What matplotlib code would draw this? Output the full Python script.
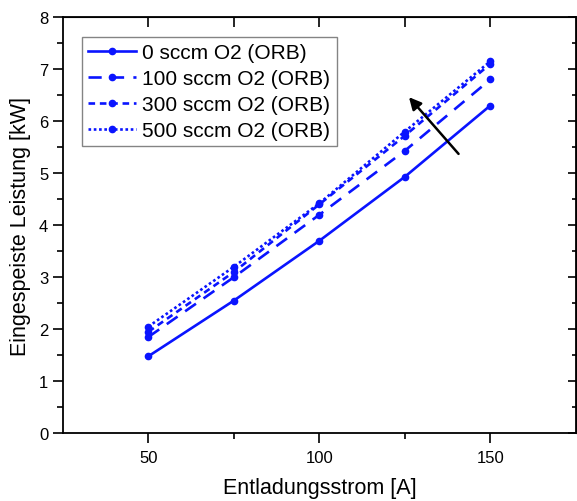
import matplotlib
matplotlib.use("Agg")
import matplotlib.pyplot as plt

plt.rcParams['font.family'] = ['Liberation Sans', 'DejaVu Sans']

# Entladungsstrom [A]
current = [50, 75, 100, 125, 150]

# Eingespeiste Leistung [kW] per O2 flow
p_0sccm   = [1.48, 2.55, 3.70, 4.93, 6.30]
p_100sccm = [1.85, 3.00, 4.20, 5.43, 6.80]
p_300sccm = [1.95, 3.10, 4.40, 5.72, 7.10]
p_500sccm = [2.05, 3.20, 4.42, 5.80, 7.15]

labels = ['0 sccm O2 (ORB)', '100 sccm O2 (ORB)', '300 sccm O2 (ORB)', '500 sccm O2 (ORB)']
series = [p_0sccm, p_100sccm, p_300sccm, p_500sccm]
dashes = ['-', (0, (5, 3.5)), (0, (2.5, 1.8)), (0, (1, 1))]

blue = '#0a14ff'

fig = plt.figure(figsize=(5.77, 5.02), dpi=100)
ax = fig.add_axes([0.109, 0.135, 0.889, 0.829])

for y, lab, ls in zip(series, labels, dashes):
    ax.plot(current, y, color=blue, linestyle=ls, linewidth=1.9,
            marker='o', markersize=4.5, label=lab)

# arrow: increasing O2 flow
ax.annotate('', xy=(126.2, 6.46), xytext=(140.7, 5.37),
            arrowprops=dict(arrowstyle='-|>', color='black', lw=1.8,
                            mutation_scale=18, shrinkA=0, shrinkB=0))

ax.set_xlim(25, 175)
ax.set_ylim(0, 8)
ax.set_xticks([50, 100, 150])
ax.set_xticks([75, 125], minor=True)
ax.set_yticks(range(0, 9))
ax.set_yticks([i + 0.5 for i in range(8)], minor=True)

ax.tick_params(axis='both', which='both', direction='out', labelsize=12,
               top=False, right=False, width=1.2)
ax.tick_params(which='major', length=7)
ax.tick_params(which='minor', length=4)
ax.tick_params(axis='x', pad=5)

# mirror ticks on top/right pointing inward
top = ax.secondary_xaxis('top')
top.set_xticks([50, 100, 150])
top.set_xticks([75, 125], minor=True)
top.set_xticklabels([])
top.tick_params(which='both', direction='in', width=1.2, length=7)

right = ax.secondary_yaxis('right')
right.set_yticks(range(0, 9))
right.set_yticks([i + 0.5 for i in range(8)], minor=True)
right.set_yticklabels([])
right.tick_params(which='major', direction='in', width=1.2, length=6)
right.tick_params(which='minor', direction='in', width=1.2, length=3)

for sp in ax.spines.values():
    sp.set_linewidth(1.3)

ax.set_xlabel('Entladungsstrom [A]', fontsize=15.5, labelpad=9)
ax.set_ylabel('Eingespeiste Leistung [kW]', fontsize=15.5, labelpad=6)

leg = ax.legend(loc='upper left', bbox_to_anchor=(0.037, 0.952), borderaxespad=0,
                fontsize=15, fancybox=False, edgecolor='#666666',
                handlelength=2.3, handletextpad=0.3, borderpad=0.3,
                labelspacing=0.33)
leg.get_frame().set_linewidth(1.0)

fig.savefig('out.png', dpi=100)
